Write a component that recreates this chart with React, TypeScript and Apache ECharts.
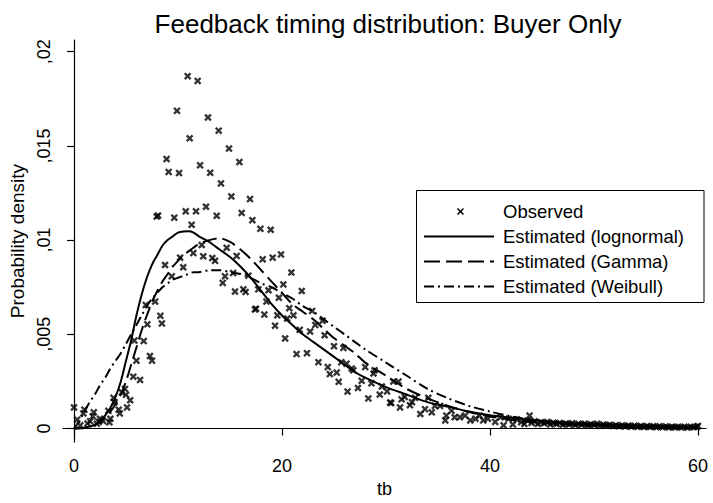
import React, { useEffect, useRef } from "react";
import * as echarts from "echarts";

const titleText = "Feedback timing distribution: Buyer Only";
const xTicks = [0, 20, 40, 60];
const yTicks = [0, 0.005, 0.01, 0.015, 0.02];
const yTickLabels = ["0", ",005", ",01", ",015", ",02"];
const legendNames = ["Observed", "Estimated (lognormal)", "Estimated (Gamma)", "Estimated (Weibull)"];

const curveX = [0, 0.5, 1, 1.5, 2, 2.5, 3, 3.5, 4, 4.5, 5, 5.5, 6, 6.5, 7, 7.5, 8, 8.5, 9, 9.5, 10, 10.5, 11, 11.5, 12,
  13, 14, 15, 16, 17, 18, 19, 20, 21, 22, 23, 24, 25, 26, 27, 28,
  30, 32, 34, 36, 38, 40, 42, 44, 46, 48, 50, 52, 54, 56, 58, 60];

const lognormal = [0, 0.00001, 0.00003, 0.0001, 0.0002, 0.0004, 0.0007, 0.0011, 0.0017, 0.0025, 0.0036, 0.0047, 0.006, 0.0071, 0.008, 0.0087, 0.0092, 0.0097, 0.01, 0.0102, 0.0104, 0.01046, 0.01047, 0.0104, 0.0102,
  0.0099, 0.0095, 0.0091, 0.0086, 0.008, 0.0073, 0.0066, 0.006, 0.0055, 0.005, 0.0046, 0.0042, 0.0038, 0.0034, 0.003, 0.0027,
  0.0022, 0.0018, 0.0014, 0.00115, 0.0009, 0.0007, 0.00057, 0.00045, 0.00036, 0.0003, 0.00025, 0.0002, 0.00017, 0.00014, 0.00012, 0.0001];

const gamma = [0, 0.00001, 0.00004, 0.0001, 0.0002, 0.00035, 0.0006, 0.0009, 0.0013, 0.0018, 0.0025, 0.0034, 0.0043, 0.0052, 0.006, 0.0067, 0.0073, 0.0078, 0.0082, 0.0086, 0.0089, 0.0092, 0.0094, 0.0096, 0.0098,
  0.01, 0.0101, 0.0099, 0.0095, 0.009, 0.0084, 0.0078, 0.0072, 0.0066, 0.0062, 0.0058, 0.0053, 0.0048, 0.0044, 0.004, 0.0035,
  0.0028, 0.0021, 0.0016, 0.0012, 0.00088, 0.00064, 0.00047, 0.00035, 0.00026, 0.0002, 0.00015, 0.00011, 0.00008, 0.00006, 0.00004, 0.00003];

const weibull = [0, 0.0004, 0.0009, 0.0014, 0.0018, 0.0023, 0.0027, 0.0032, 0.0036, 0.004, 0.0045, 0.005, 0.0055, 0.006, 0.0065, 0.0069, 0.0072, 0.0075, 0.0077, 0.0079, 0.008, 0.0081, 0.0082, 0.0083, 0.0083,
  0.0084, 0.0084, 0.0083, 0.0082, 0.008, 0.0077, 0.0075, 0.0072, 0.0069, 0.0065, 0.0062, 0.0058, 0.0054, 0.005, 0.0046, 0.0042,
  0.0035, 0.0028, 0.0021, 0.0016, 0.0012, 0.0009, 0.00065, 0.00047, 0.00033, 0.00023, 0.00016, 0.00011, 0.00007, 0.00005, 0.00003, 0.00002];

const observed: [number, number][] = [
  [0.0, 0.00112], [0.3, 0.00047], [0.6, 0.00017], [0.9, 0.0008], [1.0, 0.001], [1.3, 0.00027], [1.55, 0.00038],
  [1.8, 0.00065], [1.9, 0.00086], [2.2, 0.00026], [2.4, 0.00036], [2.5, 0.00052], [2.8, 0.0004], [3.3, 0.00094],
  [3.4, 0.00033], [3.5, 0.00052], [3.8, 0.00163], [3.9, 0.0014], [4.3, 0.001], [4.4, 0.0008], [4.6, 0.00192],
  [4.9, 0.0021], [5.0, 0.00179], [5.1, 0.00112], [5.4, 0.0015], [5.7, 0.00275], [5.8, 0.00467], [6.0, 0.0036],
  [6.35, 0.00258], [6.7, 0.00464], [6.9, 0.00656], [7.05, 0.00553], [7.3, 0.00385], [7.5, 0.0036], [7.8, 0.00674],
  [7.95, 0.01125], [8.08, 0.0113], [8.3, 0.00598], [8.45, 0.00558], [8.75, 0.00868], [8.9, 0.0143], [9.1, 0.01362],
  [9.4, 0.00808], [9.64, 0.01119], [9.9, 0.01686], [10.1, 0.01356], [10.2, 0.00907], [10.5, 0.00856], [10.74, 0.01153],
  [10.93, 0.0187], [11.12, 0.0154], [11.31, 0.01081], [11.47, 0.00931], [11.73, 0.01153], [11.89, 0.01845],
  [12.12, 0.01397], [12.28, 0.00974], [12.43, 0.00914], [12.69, 0.01177], [12.88, 0.01651], [13.1, 0.01357],
  [13.3, 0.00905], [13.56, 0.0089], [13.72, 0.01129], [13.91, 0.01581], [14.13, 0.01301], [14.3, 0.00773],
  [14.52, 0.00808], [14.68, 0.00959], [14.9, 0.01486], [15.13, 0.01232], [15.3, 0.00825], [15.48, 0.00727],
  [15.64, 0.00916], [15.9, 0.01414], [16.12, 0.01144], [16.28, 0.00739], [16.5, 0.00725], [16.76, 0.00811],
  [16.92, 0.01218], [17.15, 0.01106], [17.4, 0.00632], [17.5, 0.00636], [17.72, 0.00739], [17.92, 0.0106],
  [18.14, 0.00898], [18.3, 0.00605], [18.5, 0.00674], [18.7, 0.00734], [18.91, 0.01055], [19.1, 0.00907],
  [19.33, 0.00546], [19.55, 0.00601], [19.7, 0.00694], [19.9, 0.00924], [20.13, 0.00765], [20.3, 0.00478],
  [20.5, 0.00584], [20.7, 0.00639], [20.9, 0.00828], [21.1, 0.00601], [21.4, 0.00395], [21.7, 0.00524],
  [21.9, 0.0073], [22.4, 0.004], [22.7, 0.00515], [22.9, 0.00624], [23.2, 0.0055], [23.5, 0.00352], [23.9, 0.00572],
  [24.1, 0.00495], [24.4, 0.00326], [24.6, 0.00289], [25.0, 0.00437], [25.26, 0.00297], [25.45, 0.00248],
  [25.7, 0.00352], [25.9, 0.00428], [26.2, 0.00344], [26.3, 0.00196], [26.7, 0.00318], [26.86, 0.00309],
  [27.3, 0.00215], [27.66, 0.00253], [28.0, 0.00326], [28.3, 0.0016], [28.6, 0.0024], [28.8, 0.00292],
  [28.9, 0.00309], [29.4, 0.0018], [29.6, 0.00223], [30.1, 0.00197], [30.4, 0.00138], [30.5, 0.00135],
  [30.7, 0.00249], [31.2, 0.00249], [31.35, 0.00112], [31.5, 0.00155], [31.8, 0.00168], [32.3, 0.00124],
  [32.5, 0.0014], [32.8, 0.00163], [33.3, 0.00077], [33.75, 0.00103], [34.07, 0.00163], [34.4, 0.00086],
  [34.7, 0.0012], [35.2, 0.0012], [35.7, 0.00043], [35.8, 0.00069], [36.3, 0.00094], [36.6, 0.0006],
  [37.1, 0.0006], [37.6, 0.00069], [38.1, 0.00043], [38.6, 0.00052], [39.0, 0.00069], [39.35, 0.00043],
  [39.8, 0.00052], [40.5, 0.00035], [41.0, 0.0006], [41.3, 0.00017], [41.8, 0.00052], [42.2, 0.00022],
  [42.6, 0.00048], [43.0, 0.00034], [43.3, 0.00024], [43.6, 0.00042], [43.8, 0.00069], [44.0, 0.0003],
  [44.3, 0.00038], [44.6, 0.00024], [44.9, 0.00034], [45.2, 0.00028], [45.5, 0.00035], [45.8, 0.00022],
  [46.1, 0.00031], [46.4, 0.00024], [46.7, 0.0003], [47.0, 0.0002], [47.3, 0.00027], [47.6, 0.00022],
  [47.9, 0.00028], [48.2, 0.00018], [48.5, 0.00025], [48.8, 0.0002], [49.1, 0.00026], [49.4, 0.00016],
  [49.7, 0.00023], [50.0, 0.00019], [50.3, 0.00026], [50.6, 0.00015], [50.9, 0.00021], [51.2, 0.00016],
  [51.5, 0.0002], [51.8, 0.00013], [52.1, 0.00018], [52.4, 0.00012], [52.7, 0.00017], [53.0, 0.00011],
  [53.3, 0.00016], [53.6, 0.0001], [53.9, 0.00015], [54.2, 0.00009], [54.5, 0.00014], [54.8, 0.00008],
  [55.1, 0.00013], [55.4, 0.00008], [55.7, 0.00012], [56.0, 0.00007], [56.3, 0.00012], [56.6, 0.00007],
  [56.9, 0.00011], [57.2, 0.00006], [57.5, 0.0001], [57.8, 0.00006], [58.1, 0.0001], [58.4, 0.00006],
  [58.7, 0.00009], [59.0, 0.00005], [59.3, 0.00009], [59.6, 0.00007], [59.9, 0.0001], [60.0, 0.00014],
];

const FONT = "'Liberation Sans', Arial, Helvetica, sans-serif";
const INK = "#000";
const xMarkPath = "path://M0 2.2L2.2 0L5 2.8L7.8 0L10 2.2L7.2 5L10 7.8L7.8 10L5 7.2L2.2 10L0 7.8L2.8 5Z";

function pairs(xs: number[], ys: number[]) {
  return xs.map((x, i) => [x, ys[i]]);
}

export default function App() {
  const ref = useRef<HTMLDivElement>(null);
  useEffect(() => {
    if (!ref.current) return;
    const chart = echarts.init(ref.current, null, { renderer: "svg" });
    const lx1 = 424, lx2 = 494, ltx = 503;
    const rows = [211.5, 236.5, 261.5, 286.5];
    const cx = 460.5, cy = rows[0], s = 3.5, w = 1.1;
    chart.setOption({
      animation: false,
      backgroundColor: "#fff",
      title: {
        text: titleText,
        left: 383,
        textAlign: "center",
        top: 6,
        textStyle: { fontFamily: FONT, fontSize: 26, fontWeight: "normal", color: INK },
      },
      grid: { left: 63, top: 40, right: 7, bottom: 49, containLabel: false },
      xAxis: {
        type: "value",
        min: -1.06,
        max: 60.77,
        name: "tb",
        nameLocation: "middle",
        nameGap: 34,
        nameTextStyle: { fontFamily: FONT, fontSize: 18, color: INK },
        splitLine: { show: false },
        axisLine: { show: true, lineStyle: { color: INK, width: 1.2 } },
        axisTick: { show: true, length: 7, customValues: xTicks, lineStyle: { color: INK, width: 1.2 } },
        axisLabel: { customValues: xTicks, margin: 15, fontFamily: FONT, fontSize: 18, color: INK },
      },
      yAxis: {
        type: "value",
        min: -0.00072,
        max: 0.02062,
        name: "Probability density",
        nameLocation: "middle",
        nameGap: 34,
        nameTextStyle: { fontFamily: FONT, fontSize: 19, color: INK },
        splitLine: { show: false },
        axisLine: { show: true, lineStyle: { color: INK, width: 1.2 } },
        axisTick: { show: true, length: 7, customValues: yTicks, lineStyle: { color: INK, width: 1.2 } },
        axisLabel: {
          customValues: yTicks,
          rotate: 90,
          margin: 10,
          fontFamily: FONT,
          fontSize: 18,
          color: INK,
          formatter: (v: number) => {
            const i = yTicks.findIndex((t) => Math.abs(t - v) < 1e-9);
            return i >= 0 ? yTickLabels[i] : "";
          },
        },
      },
      series: [
        {
          name: legendNames[0],
          type: "scatter",
          data: observed,
          symbol: xMarkPath,
          symbolSize: 7.5,
          itemStyle: { color: INK },
          z: 3,
        },
        {
          name: legendNames[1],
          type: "line",
          data: pairs(curveX, lognormal),
          smooth: 0.3,
          showSymbol: false,
          lineStyle: { color: INK, width: 2, type: "solid" },
          z: 4,
        },
        {
          name: legendNames[2],
          type: "line",
          data: pairs(curveX, gamma),
          smooth: 0.3,
          showSymbol: false,
          lineStyle: { color: INK, width: 2, type: [14, 6] },
          z: 4,
        },
        {
          name: legendNames[3],
          type: "line",
          data: pairs(curveX, weibull),
          smooth: 0.3,
          showSymbol: false,
          lineStyle: { color: INK, width: 2, type: [10, 4, 2, 4] },
          z: 4,
        },
      ],
      graphic: [
        {
          type: "group",
          z: 100,
          children: [
            {
              type: "rect",
              shape: { x: 416.5, y: 190.5, width: 287.5, height: 112 },
              style: { fill: "#fff", stroke: INK, lineWidth: 1 },
            },
            {
              type: "polygon",
              shape: {
                points: [
                  [cx - s, cy - s + w], [cx - s + w, cy - s], [cx, cy - w], [cx + s - w, cy - s],
                  [cx + s, cy - s + w], [cx + w, cy], [cx + s, cy + s - w], [cx + s - w, cy + s],
                  [cx, cy + w], [cx - s + w, cy + s], [cx - s, cy + s - w], [cx - w, cy],
                ],
              },
              style: { fill: INK },
            },
            { type: "line", shape: { x1: lx1, y1: rows[1], x2: lx2, y2: rows[1] }, style: { stroke: INK, lineWidth: 1.8 } },
            { type: "line", shape: { x1: lx1, y1: rows[2], x2: lx2, y2: rows[2] }, style: { stroke: INK, lineWidth: 1.8, lineDash: [16, 6] } },
            { type: "line", shape: { x1: lx1, y1: rows[3], x2: lx2, y2: rows[3] }, style: { stroke: INK, lineWidth: 1.8, lineDash: [10, 4, 2, 4] } },
            ...legendNames.map((n, i) => ({
              type: "text",
              x: ltx,
              y: rows[i],
              style: { text: n, fontFamily: FONT, fontSize: 18.5, fill: INK, verticalAlign: "middle", align: "left" },
            })),
          ],
        },
      ],
    });
    return () => chart.dispose();
  }, []);
  return (
    <div
      ref={ref}
      style={{ position: "fixed", left: 0, top: 0, width: 713, height: 503, background: "#fff" }}
    />
  );
}
